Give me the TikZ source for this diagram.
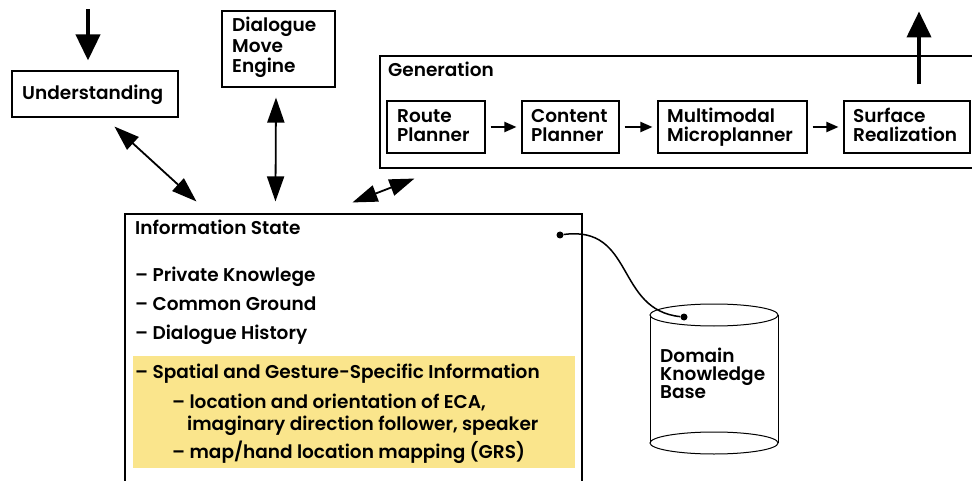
\documentclass[tikz,border=0pt]{standalone}
\usepackage{fontspec}
\setmainfont{Poppins}[BoldFont={Poppins SemiBold}]
\usetikzlibrary{arrows.meta,calc}
\definecolor{spatialfill}{RGB}{250,229,140}

\begin{document}
\begin{tikzpicture}[x=1pt,y=-1pt,
  box/.style={draw,line width=1.1pt,inner sep=0pt},
  txt/.style={anchor=base west,inner sep=0pt,font=\fontsize{18.5}{22}\selectfont\bfseries},
  dbl/.style={{Triangle[length=25pt,width=17pt]}-{Triangle[length=25pt,width=17pt]},line width=1.8pt},
  io/.style={-{Triangle[length=26pt,width=24pt]},line width=4pt},
  flow/.style={-{Triangle[length=12pt,width=10pt]},line width=2pt,shorten <=5pt,shorten >=5pt},
  dot/.style={circle,fill,inner sep=0pt,minimum size=7pt}]

\useasboundingbox[fill=white] (0,0) rectangle (972,481);

% --- boxes ---
\node[box,minimum width=166pt,minimum height=46pt] (und) at (95,94) {};
\node[box,minimum width=113pt,minimum height=76pt] (dme) at (278.5,49) {};
\node[box,minimum width=600pt,minimum height=112pt] (gen) at (680,112) {};
\node[box,minimum width=98pt,minimum height=52pt] (rp) at (436,127) {};
\node[box,minimum width=97pt,minimum height=52pt] (cp) at (570.5,127) {};
\node[box,minimum width=149pt,minimum height=52pt] (mm) at (732.5,127) {};
\node[box,minimum width=126pt,minimum height=52pt] (sr) at (907,127) {};
\node[box,minimum width=457pt,minimum height=290pt] (is) at (353.5,359) {};
\node[fill=spatialfill,inner sep=0pt,minimum width=442pt,minimum height=112pt] (spatial) at (354,412) {};

% --- labels ---
\node[txt] (undt) at (22,100) {Understanding};
\node[txt] (dmet1) at (232,32) {Dialogue};
\node[txt] (dmet2) at (232,52.5) {Move};
\node[txt] (dmet3) at (232,73) {Engine};
\node[txt] (gent) at (388,77) {Generation};
\node[txt] (rpt1) at (397,123) {Route};
\node[txt] (rpt2) at (397,142) {Planner};
\node[txt] (cpt1) at (531,123) {Content};
\node[txt] (cpt2) at (531,142) {Planner};
\node[txt] (mmt1) at (667,123) {Multimodal};
\node[txt] (mmt2) at (667,142) {Microplanner};
\node[txt] (srt1) at (853,123) {Surface};
\node[txt] (srt2) at (853,142) {Realization};

\node[txt] (ist) at (135,235) {Information State};
\node[txt] (is1) at (135,281) {– Private Knowlege};
\node[txt] (is2) at (135,310) {– Common Ground};
\node[txt] (is3) at (135,339) {– Dialogue History};
\node[txt] (is4) at (135,378) {– Spatial and Gesture-Specific Information};
\node[txt] (is5) at (172,408) {– location and orientation of ECA,};
\node[txt] (is6) at (187,430) {imaginary direction follower, speaker};
\node[txt] (is7) at (172,458) {– map/hand location mapping (GRS)};

% --- domain knowledge base (cylinder) ---
\draw[line width=1pt] (714,315) ellipse [x radius=64,y radius=11];
\draw[line width=1pt] (714,443) ellipse [x radius=64,y radius=11];
\draw[line width=1pt] (650,315) -- (650,443);
\draw[line width=1pt] (778,315) -- (778,443);
\node[txt] (dbt1) at (660,362) {Domain};
\node[txt] (dbt2) at (660,380) {Knowledge};
\node[txt] (dbt3) at (660,398) {Base};

% --- connectors ---
\draw[io] ($(und.north)+(-7,-61)$) -- ($(und.north)+(-7,-10)$);
\draw[io] ($(sr.north)+(12,-16)$) -- ($(sr.north)+(12,-89)$);
\draw[dbl] ($(und.south west)+(103,9)$) -- ($(is.north west)+(72,-12)$);
\draw[dbl] ($(dme.south)+(-2.5,10)$) -- ($(is.north west)+(151,-12)$);
\draw[dbl] ($(is.north west)+(228,-11)$) -- ($(gen.south west)+(35,10)$);
\draw[flow] (rp) -- (cp);
\draw[flow] (cp) -- (mm);
\draw[flow] (mm) -- (sr);

\node[dot] (kbsrc) at (560,235) {};
\node[dot] (kbdst) at (684,317) {};
\draw[line width=1.5pt] (kbsrc) .. controls (635,225) and (615,310) .. (kbdst);
\end{tikzpicture}
\end{document}
